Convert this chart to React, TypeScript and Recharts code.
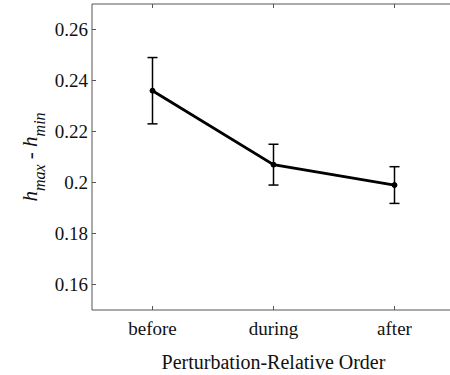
import React from 'react';
import { LineChart, Line, XAxis, YAxis, ErrorBar } from 'recharts';

const categories = ['before', 'during', 'after'];
const means = [0.236, 0.207, 0.199];
const errors = [0.013, 0.008, 0.0072];
const yTicks = [0.16, 0.18, 0.2, 0.22, 0.24, 0.26];

const data = categories.map((name, i) => ({ x: i + 1, name, value: means[i], err: errors[i] }));

const FONT = '"Liberation Serif", "Times New Roman", serif';
const AXIS = '#555';

const YLabel = () => (
  <text
    x={0}
    y={0}
    transform="translate(37, 157) rotate(-90)"
    textAnchor="middle"
    fontFamily={FONT}
    fontSize={21}
    fill="#111"
  >
    <tspan fontStyle="italic">h</tspan>
    <tspan fontStyle="italic" fontSize={16} dy={8}>max</tspan>
    <tspan dy={-8}> - </tspan>
    <tspan fontStyle="italic">h</tspan>
    <tspan fontStyle="italic" fontSize={16} dy={8}>min</tspan>
  </text>
);

const App = () => {
  return (
    <div style={{ position: 'absolute', left: 0, top: 0, width: 450, height: 375, overflow: 'hidden', background: '#fff' }}>
      <LineChart width={460} height={375} data={data} margin={{ top: 3, right: 5, left: 0, bottom: 0 }}>
        <XAxis
          xAxisId="top"
          orientation="top"
          dataKey="x"
          type="number"
          domain={[0.5, 3.5]}
          ticks={[1, 2, 3]}
          height={1}
          tickSize={-4}
          tickFormatter={() => ''}
          axisLine={{ stroke: AXIS }}
          tickLine={{ stroke: AXIS }}
        />
        <XAxis
          xAxisId="bottom"
          dataKey="x"
          type="number"
          domain={[0.5, 3.5]}
          ticks={[1, 2, 3]}
          tickFormatter={(v: number) => categories[v - 1]}
          height={65}
          tickSize={-4}
          tickMargin={16}
          stroke={AXIS}
          tick={{ fill: '#111', fontFamily: FONT, fontSize: 19 }}
          label={{ value: 'Perturbation-Relative Order', position: 'insideBottom', offset: 6, fill: '#111', fontFamily: FONT, fontSize: 20 }}
        />
        <YAxis
          domain={[0.15, 0.27]}
          ticks={yTicks}
          width={92}
          tickSize={-4}
          tickMargin={8}
          stroke={AXIS}
          tick={{ fill: '#111', fontFamily: FONT, fontSize: 19 }}
          allowDataOverflow
          label={<YLabel />}
        />
        <Line
          xAxisId="top"
          dataKey="value"
          stroke="none"
          dot={false}
          activeDot={false}
          legendType="none"
          isAnimationActive={false}
        />
        <Line
          xAxisId="bottom"
          dataKey="value"
          stroke="#000"
          strokeWidth={2.8}
          dot={{ r: 2.5, fill: '#000', stroke: '#000', strokeWidth: 1 }}
          isAnimationActive={false}
        >
          <ErrorBar dataKey="err" width={5} stroke="#000" strokeWidth={1.5} direction="y" />
        </Line>
      </LineChart>
    </div>
  );
};

export default App;
